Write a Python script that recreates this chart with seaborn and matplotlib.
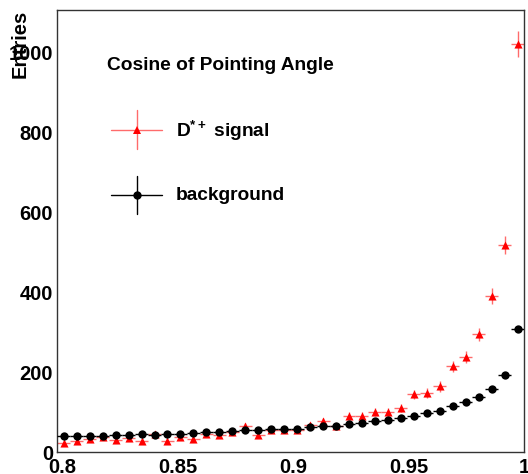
import numpy as np
import pandas as pd
import matplotlib
matplotlib.use("Agg")
import matplotlib.pyplot as plt
from matplotlib.lines import Line2D
from matplotlib.ticker import MultipleLocator, FuncFormatter
import seaborn as sns

# Histogram range and binning of cos(pointing angle)
x_min, x_max = 0.798, 1.0
n_bins = 36

signal_counts = [22, 27, 32, 38, 29, 34, 27, 45, 27, 38, 32, 46, 42, 51, 65, 42,
                 55, 56, 54, 67, 77, 64, 91, 91, 101, 100, 110, 144, 147, 164,
                 214, 238, 294, 391, 517, 1020]
background_counts = [39, 40, 40, 41, 42, 42, 44, 43, 46, 46, 47, 49, 50, 52, 54, 55,
                     57, 58, 58, 63, 65, 65, 70, 73, 77, 80, 85, 89, 97, 103,
                     114, 125, 138, 157, 192, 308]

title_text = "Cosine of Pointing Angle"
signal_label = r"D$^{*+}$ signal"
background_label = "background"
y_title = "Entries"

sns.set_style("white")
plt.rcParams["font.family"] = ["Liberation Sans", "DejaVu Sans"]
plt.rcParams["font.weight"] = "bold"
plt.rcParams["text.color"] = "black"
plt.rcParams["xtick.color"] = "black"
plt.rcParams["ytick.color"] = "black"
plt.rcParams["axes.labelcolor"] = "black"
plt.rcParams["mathtext.fontset"] = "custom"
plt.rcParams["mathtext.rm"] = "Liberation Sans:bold"
plt.rcParams["mathtext.bf"] = "Liberation Sans:bold"
plt.rcParams["mathtext.it"] = "Liberation Sans:bold"

edges = np.linspace(x_min, x_max, n_bins + 1)
centers = 0.5 * (edges[:-1] + edges[1:])
half_width = 0.5 * (edges[1] - edges[0])

df = pd.DataFrame({
    "cos": centers,
    "signal": np.array(signal_counts, dtype=float),
    "background": np.array(background_counts, dtype=float),
})

W, H = 528, 474
fig = plt.figure(figsize=(W / 100, H / 100), dpi=100)
ax = fig.add_axes([57.3 / W, 22 / H, 466.7 / W, 442 / H])

red_bar = (1.0, 0.42, 0.42)

# signal: Poisson errors, bin-width horizontal bars
ax.errorbar(df["cos"], df["signal"], xerr=half_width, yerr=np.sqrt(df["signal"]),
            fmt="none", ecolor=red_bar, elinewidth=1.0, capsize=0, zorder=2)
sns.scatterplot(data=df, x="cos", y="signal", marker="^", color="red",
                s=34, linewidth=0, ax=ax, zorder=3, legend=False)

# background (scaled sample, small errors)
ax.errorbar(df["cos"], df["background"], xerr=half_width,
            yerr=0.2 * np.sqrt(df["background"]),
            fmt="none", ecolor="black", elinewidth=1.0, capsize=0, zorder=4)
sns.scatterplot(data=df, x="cos", y="background", marker="o", color="black",
                s=36, linewidth=0, ax=ax, zorder=5, legend=False)

ax.set_xlim(x_min, x_max)
ax.set_ylim(0, 1105)
ax.set_xlabel("")
ax.set_ylabel("")

ax.xaxis.set_major_locator(MultipleLocator(0.05))
ax.xaxis.set_minor_locator(MultipleLocator(0.01))
ax.yaxis.set_major_locator(MultipleLocator(200))
ax.yaxis.set_minor_locator(MultipleLocator(50))
ax.xaxis.set_major_formatter(FuncFormatter(lambda v, p: f"{v:g}"))
ax.yaxis.set_major_formatter(FuncFormatter(lambda v, p: f"{v:g}"))

frame_col = "#333333"
ax.tick_params(which="both", direction="in", top=False, right=False,
               color=frame_col, labelcolor="black", width=0.8, labelsize=14.5)
ax.tick_params(which="major", length=9.7)
ax.tick_params(which="minor", length=5.0)
ax.tick_params(axis="y", pad=3)
ax.tick_params(axis="x", pad=4.5)
for lab in ax.get_xticklabels() + ax.get_yticklabels():
    lab.set_fontweight("bold")
for sp in ax.spines.values():
    sp.set_color(frame_col)
    sp.set_linewidth(1.0)

fig.text(20.3 / W, 1 - 10 / H, y_title, rotation=90, ha="center", va="top",
         fontsize=14.5, fontweight="bold", color="black")

# legend block
tr = ax.transAxes
ax.text(0.107, 0.8643, title_text, transform=tr, ha="left", va="baseline",
        fontsize=13.8, fontweight="bold", color="black")

mx = 0.1708
hx0, hx1 = 0.1151, 0.2243
ry, by = 0.7285, 0.5814
ax.add_line(Line2D([hx0, hx1], [ry, ry], color=red_bar, lw=1.0, transform=tr))
ax.add_line(Line2D([mx, mx], [0.6855, 0.7738], color=red_bar, lw=1.0, transform=tr))
ax.add_line(Line2D([mx], [ry], marker="^", color="red", markersize=6,
                   markeredgewidth=0, transform=tr))
ax.add_line(Line2D([hx0, hx1], [by, by], color="black", lw=1.0, transform=tr))
ax.add_line(Line2D([mx, mx], [0.5385, 0.6244], color="black", lw=1.0, transform=tr))
ax.add_line(Line2D([mx], [by], marker="o", color="black", markersize=6,
                   markeredgewidth=0, transform=tr))
ax.text(0.2543, 0.7133, signal_label, transform=tr, ha="left", va="baseline",
        fontsize=13.8, fontweight="bold", color="black")
ax.text(0.2543, 0.570, background_label, transform=tr, ha="left", va="baseline",
        fontsize=13.8, fontweight="bold", color="black")

fig.savefig("out.png", dpi=100)
